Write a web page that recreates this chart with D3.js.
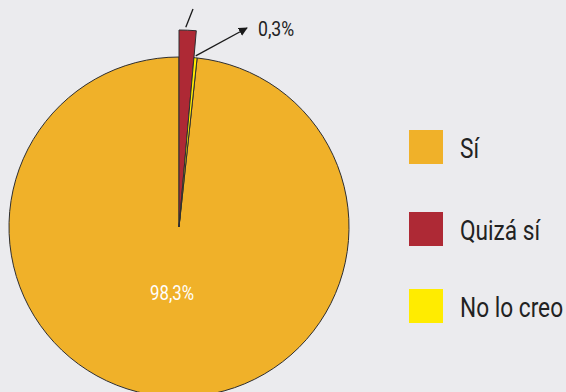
<!DOCTYPE html>
<html>
<head>
<meta charset="utf-8">
<script src="https://cdn.jsdelivr.net/npm/d3@7"></script>
<style>
  html, body { margin: 0; padding: 0; background: #ebebee; }
  svg { display: block; }
  text { font-family: Roboto, "Liberation Sans Narrow", sans-serif; font-weight: 400; }
</style>
</head>
<body>
<script>
// Answers and their shares (%)
const categories = ["Sí", "Quizá sí", "No lo creo"];
const values = [98.3, 1.4, 0.3];
const colors = ["#f0b129", "#ae2935", "#ffec00"];
const labels = ["98,3%", "1,4%", "0,3%"];
// slices are laid out clockwise from 12 o'clock in this order
const sliceOrder = [1, 2, 0];

const W = 566, H = 392;
const cx = 179, cy = 227, R = 170;
const pull = 27; // extra radius for the highlighted "Quizá sí" wedge
const squeeze = 0.84; // horizontal condensing of the type

const svg = d3.select("body").append("svg")
  .attr("width", W).attr("height", H);

svg.append("rect").attr("width", W).attr("height", H).attr("fill", "#ebebee");

// condensed text helper
function label(x, y, txt, size, fill, anchor) {
  return svg.append("text")
    .attr("transform", `translate(${x},${y}) scale(${squeeze},1)`)
    .attr("text-anchor", anchor || "start")
    .attr("font-size", size)
    .attr("fill", fill)
    .text(txt);
}

const slices = sliceOrder.map(i => ({ i, value: values[i] }));
const pie = d3.pie().sort(null).value(d => d.value);
const arcs = pie(slices);

const arc = d3.arc().innerRadius(0);

const g = svg.append("g").attr("transform", `translate(${cx},${cy})`);

// draw the big slice first so the thin ones sit on top
const drawSeq = [...arcs].sort((a, b) => b.value - a.value);
g.selectAll("path").data(drawSeq).join("path")
  .attr("d", d => arc.outerRadius(d.data.i === 1 ? R + pull : R)(d))
  .attr("fill", d => colors[d.data.i])
  .attr("stroke", "#2e2e30")
  .attr("stroke-width", 1)
  .attr("stroke-linejoin", "round");

// value label inside the main slice
label(172, 300, labels[0], 20, "#ffffff", "middle");

// arrow pointing to the small "No lo creo" slice label
const defs = svg.append("defs");
defs.append("marker")
  .attr("id", "arrowhead")
  .attr("viewBox", "0 0 10 10")
  .attr("refX", 9).attr("refY", 5)
  .attr("markerWidth", 9).attr("markerHeight", 9)
  .attr("markerUnits", "userSpaceOnUse")
  .attr("orient", "auto")
  .append("path").attr("d", "M0,0 L10,5 L0,10 z").attr("fill", "#1a1a1a");

const yArc = arcs.find(a => a.data.i === 2);
const yMid = (yArc.startAngle + yArc.endAngle) / 2;
const ax0 = cx + (R + 2) * Math.sin(yMid), ay0 = cy - (R + 2) * Math.cos(yMid);
svg.append("line")
  .attr("x1", ax0).attr("y1", ay0)
  .attr("x2", 247).attr("y2", 28)
  .attr("stroke", "#1a1a1a").attr("stroke-width", 1.3)
  .attr("marker-end", "url(#arrowhead)");

label(258, 36, labels[2], 21, "#222");

// leader line for the "Quizá sí" value, which sits above the frame
const rArc = arcs.find(a => a.data.i === 1);
const rMid = (rArc.startAngle + rArc.endAngle) / 2;
svg.append("line")
  .attr("x1", cx + (R + pull + 3) * Math.sin(rMid) - 2)
  .attr("y1", cy - (R + pull + 3) * Math.cos(rMid))
  .attr("x2", 193).attr("y2", 9)
  .attr("stroke", "#1a1a1a").attr("stroke-width", 1.3);

// legend
const legendY = [130, 212, 289];
categories.forEach((c, k) => {
  svg.append("rect")
    .attr("x", 409).attr("y", legendY[k])
    .attr("width", 34).attr("height", 34)
    .attr("fill", colors[k]);
  label(460, legendY[k] + 28, c, 27, "#222");
});
</script>
</body>
</html>
